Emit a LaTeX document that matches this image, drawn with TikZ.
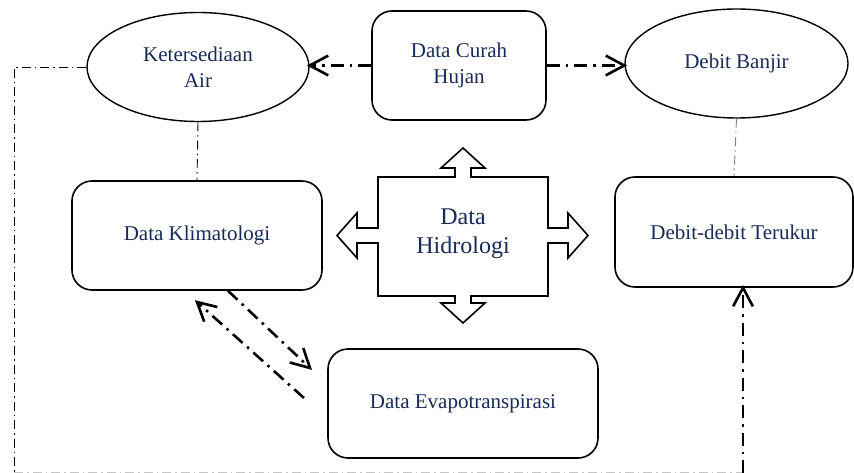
\documentclass[tikz,border=0pt]{standalone}
\usepackage{fontspec}
\setmainfont{Liberation Serif}
\usetikzlibrary{shapes.geometric,calc}
\definecolor{txt}{RGB}{24,42,88}
\tikzset{
  rbox/.style={draw,line width=1.6pt,rounded corners=20pt,text=txt,font=\fontsize{21}{26}\selectfont,align=center,inner sep=0pt},
  ell/.style={draw,line width=1.4pt,ellipse,text=txt,font=\fontsize{21}{26}\selectfont,align=center,inner sep=0pt},
  thickdd/.style={line width=2.6pt,dash pattern=on 13pt off 6pt on 2.5pt off 6pt},
  tipst/.style={line width=2.6pt,line join=miter},
  thindd/.style={line width=0.9pt,dash pattern=on 9pt off 4pt on 1.5pt off 4pt},
}
\newcommand{\barbtip}[2]{\draw[tipst] ($(#2)!21pt!28:(#1)$) -- (#2) -- ($(#2)!21pt!-28:(#1)$);}
\begin{document}
\begin{tikzpicture}[x=1pt,y=-1pt]
\useasboundingbox (0,0) rectangle (854,473);
\node[ell,minimum width=222pt,minimum height=109pt] (ket) at (198,67) {Ketersediaan\\Air};
\node[ell,minimum width=223pt,minimum height=109pt] (banjir) at (736.5,63.5) {Debit Banjir};
\node[rbox,minimum width=174pt,minimum height=109pt] (curah) at (459,65.5) {Data Curah\\Hujan};
\node[rbox,minimum width=250pt,minimum height=109pt] (klim) at (197,235.5) {Data Klimatologi};
\node[rbox,minimum width=238pt,minimum height=110pt] (terukur) at (734,232) {Debit-debit Terukur};
\node[rbox,minimum width=270pt,minimum height=109pt] (evapo) at (463,403.5) {Data Evapotranspirasi};
% Hidrologi shape
\draw[line width=1.6pt,line join=miter] (378,177) -- (455,177) -- (455,168) -- (441,168) -- (463,148) -- (485,168) -- (471,168) -- (471,177) -- (548,177) -- (548,228) -- (568,228) -- (568,213) -- (588,235.5) -- (568,258) -- (568,243) -- (548,243) -- (548,296) -- (471,296) -- (471,303) -- (485,303) -- (463,323) -- (441,303) -- (455,303) -- (455,296) -- (378,296) -- (378,243) -- (357,243) -- (357,258) -- (337,235.5) -- (357,213) -- (357,228) -- (378,228) -- cycle;
\node[text=txt,font=\fontsize{24}{29}\selectfont,align=center] (hidro) at (463,234) {Data\\Hidrologi};
% connectors
\coordinate (a1s) at (curah.west);
\coordinate (a1e) at (curah.west -| ket.east);
\coordinate (a2s) at (curah.east);
\coordinate (a2e) at (curah.east -| banjir.west);
\draw[thickdd] (a1s) -- (a1e); \barbtip{a1s}{a1e}
\draw[thickdd] (a2s) -- (a2e); \barbtip{a2s}{a2e}
\draw[thindd] (ket.south) -- (klim.north);
\draw[thindd,gray] (banjir.south) -- (terukur.north);
\coordinate (d1s) at ([xshift=31pt]klim.south);
\coordinate (d1) at (310,368);
\coordinate (d2) at (304,398);
\coordinate (d2e) at (197,302);
\draw[thickdd] (d1s) -- (d1); \barbtip{d1s}{d1}
\draw[thickdd] (d2) -- (d2e); \barbtip{d2}{d2e}
\coordinate (lc) at (14,67);
\coordinate (ll) at (14,472);
\coordinate (br) at (743,472);
\draw[thindd] (ket.west) -- (lc) -- (ll);
\draw[thindd,gray!45] (ll) -- (br);
\coordinate (bb) at (743,473);
\coordinate (bt) at (bb |- terukur.south);
\draw[thickdd] (bb) -- (bt); \barbtip{bb}{bt}
\end{tikzpicture}
\end{document}
